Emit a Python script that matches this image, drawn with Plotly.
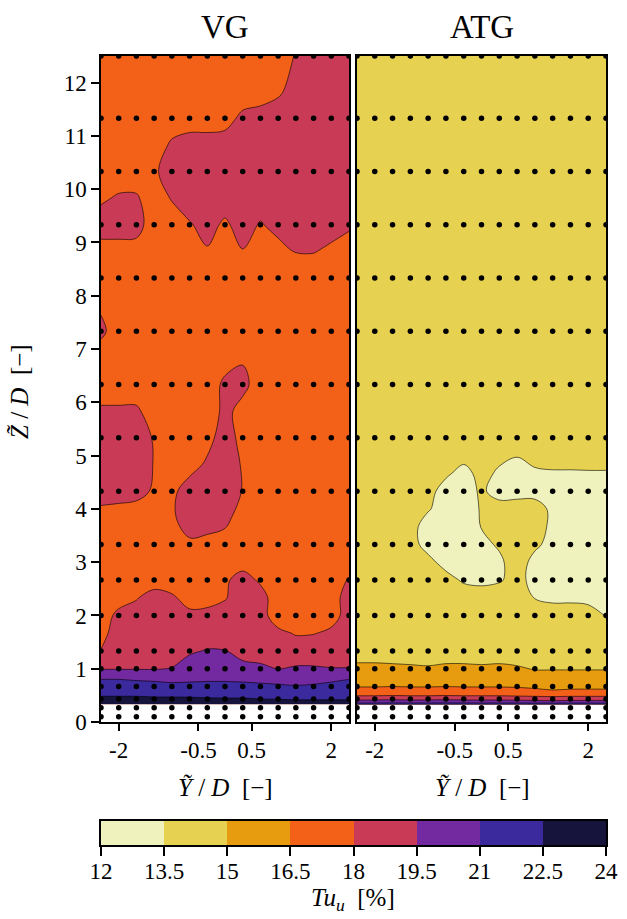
import plotly.graph_objects as go

# Measurement grid (spanwise columns, Y/D) shared by both panels
y_cols = [-2.333, -2.0, -1.667, -1.333, -1.0, -0.667, -0.333, 0.0,
          0.333, 0.667, 1.0, 1.333, 1.667, 2.0, 2.333]

# Heights (Z/D) of the probe rows drawn as dots
probe_rows = [0.1, 0.267, 0.433, 0.667, 1.0, 1.333, 2.0, 2.667, 3.333, 4.333,
              5.333, 6.333, 7.333, 8.333, 9.333, 10.333, 11.333, 12.5]

# Turbulence intensity Tu_u [%], VG case
vg_z = [0.333, 0.5, 0.667, 0.833, 1.0, 1.333, 1.667, 2.0, 2.333, 2.667, 3.0,
        3.333, 3.833, 4.333, 4.833, 5.333, 5.833, 6.333, 6.833, 7.333, 7.833,
        8.333, 8.833, 9.333, 9.833, 10.333, 10.833, 11.333, 11.833, 12.5]
vg_tu = [
    [23.4, 23.4, 23.4, 23.4, 23.4, 23.3, 23.3, 23.2, 23.2, 23.1, 23.0, 23.0, 23.0, 23.0, 23.0],
    [22.4, 22.4, 22.4, 22.3, 22.3, 22.3, 22.2, 22.2, 22.2, 22.1, 22.1, 22.0, 22.0, 22.0, 22.0],
    [21.4, 21.4, 21.4, 21.4, 21.3, 21.4, 21.4, 21.4, 21.4, 21.3, 21.2, 21.1, 21.2, 21.3, 21.4],
    [20.9, 20.9, 20.8, 20.7, 20.6, 20.6, 20.7, 20.7, 20.6, 20.5, 20.4, 20.2, 20.4, 20.7, 20.9],
    [19.4, 19.4, 19.4, 19.4, 19.55, 20.2, 20.4, 20.3, 20.0, 19.8, 19.45, 19.65, 19.65, 19.55, 19.55],
    [18.05, 18.7, 18.7, 18.7, 18.8, 19.3, 19.6, 19.55, 18.9, 18.8, 18.7, 18.7, 18.7, 18.7, 18.7],
    [17.6, 18.6, 18.7, 18.7, 18.7, 18.7, 18.7, 18.7, 18.7, 18.6, 18.3, 17.9, 17.95, 18.2, 18.6],
    [17.4, 18.3, 18.6, 18.6, 18.5, 18.3, 18.4, 18.6, 18.7, 18.5, 17.3, 17.3, 17.3, 17.6, 18.4],
    [17.3, 17.5, 17.9, 18.6, 18.2, 17.5, 17.5, 17.9, 18.7, 18.5, 17.3, 17.3, 17.5, 17.5, 18.5],
    [17.3, 17.3, 17.3, 17.3, 17.3, 17.3, 17.5, 17.8, 18.5, 17.8, 17.3, 17.3, 17.4, 17.3, 18.1],
    [17.3, 17.2, 17.3, 17.2, 17.3, 17.3, 17.4, 17.4, 17.5, 17.3, 17.2, 17.3, 17.3, 17.2, 17.3],
    [17.3, 17.3, 17.2, 17.2, 17.4, 17.8, 17.7, 17.4, 17.3, 17.3, 17.2, 17.2, 17.3, 17.3, 17.3],
    [17.4, 17.3, 17.3, 17.3, 17.8, 18.6, 18.5, 18.4, 17.3, 17.2, 17.2, 17.3, 17.3, 17.3, 17.3],
    [18.7, 18.6, 18.4, 17.85, 17.7, 18.6, 18.6, 18.6, 17.95, 17.3, 17.2, 17.3, 17.3, 17.3, 17.2],
    [18.7, 18.6, 18.6, 17.95, 17.3, 17.5, 18.2, 18.6, 17.9, 17.3, 17.3, 17.2, 17.3, 17.3, 17.3],
    [18.7, 18.6, 18.6, 17.9, 17.3, 17.3, 17.6, 18.6, 17.6, 17.3, 17.3, 17.3, 17.2, 17.3, 17.3],
    [18.2, 18.2, 18.2, 17.4, 17.3, 17.2, 17.1, 18.4, 17.5, 17.3, 17.3, 17.3, 17.3, 17.3, 17.3],
    [17.3, 17.3, 17.3, 17.3, 17.3, 17.3, 17.2, 18.3, 18.4, 17.3, 17.3, 17.3, 17.3, 17.3, 17.3],
    [17.3, 17.3, 17.3, 17.3, 17.3, 17.3, 17.3, 17.4, 17.85, 17.3, 17.3, 17.3, 17.3, 17.3, 17.3],
    [18.3, 17.3, 17.3, 17.2, 17.3, 17.3, 17.3, 17.3, 17.3, 17.3, 17.2, 17.3, 17.3, 17.3, 17.3],
    [17.8, 17.3, 17.3, 17.3, 17.3, 17.2, 17.3, 17.3, 17.3, 17.3, 17.3, 17.3, 17.2, 17.3, 17.3],
    [17.3, 17.3, 17.3, 17.3, 17.3, 17.3, 17.3, 17.3, 17.3, 17.3, 17.3, 17.3, 17.3, 17.3, 17.3],
    [17.5, 17.5, 17.5, 17.3, 17.3, 17.3, 17.9, 17.4, 17.95, 17.4, 17.6, 18.05, 18.05, 17.8, 17.4],
    [18.6, 18.6, 18.5, 17.3, 17.3, 17.9, 18.4, 17.8, 18.5, 17.9, 18.4, 18.6, 18.6, 18.4, 18.2],
    [17.8, 18.15, 18.15, 17.3, 18.1, 18.6, 18.6, 18.6, 18.6, 18.6, 18.6, 18.6, 18.6, 18.6, 18.6],
    [17.3, 17.3, 17.3, 17.8, 18.6, 18.7, 18.7, 18.7, 18.7, 18.7, 18.7, 18.7, 18.7, 18.7, 18.7],
    [17.3, 17.3, 17.3, 17.3, 18.2, 18.6, 18.6, 18.6, 18.7, 18.7, 18.7, 18.7, 18.7, 18.7, 18.7],
    [17.3, 17.3, 17.3, 17.3, 17.3, 17.3, 17.3, 17.5, 18.3, 18.6, 18.7, 18.7, 18.7, 18.7, 18.7],
    [17.3, 17.3, 17.3, 17.3, 17.3, 17.3, 17.3, 17.3, 17.3, 17.3, 17.8, 18.5, 18.6, 18.6, 18.6],
    [17.3, 17.3, 17.3, 17.3, 17.3, 17.3, 17.3, 17.3, 17.3, 17.3, 17.3, 18.1, 18.6, 18.6, 18.5],
]

# Turbulence intensity Tu_u [%], ATG case
atg_z = [0.33, 0.37, 0.45, 0.55, 0.65, 0.8, 1.0, 1.333, 2.0, 2.333, 2.667, 3.0,
         3.333, 3.667, 4.0, 4.333, 4.667, 5.0, 5.333, 12.5]
atg_tu = [
    [22.6, 22.6, 22.6, 22.6, 22.6, 22.6, 22.6, 22.6, 22.6, 22.6, 22.6, 22.6, 22.6, 22.6, 22.6],
    [20.3, 20.3, 20.4, 20.3, 20.3, 20.4, 20.3, 20.3, 20.3, 20.3, 20.2, 20.1, 20.2, 20.2, 20.2],
    [18.8, 18.8, 18.9, 18.8, 18.8, 18.9, 18.8, 18.8, 18.8, 18.7, 18.6, 18.5, 18.6, 18.6, 18.6],
    [16.9, 16.9, 17.0, 16.9, 16.9, 17.0, 16.9, 16.9, 16.9, 16.8, 16.7, 16.6, 16.7, 16.7, 16.7],
    [16.55, 16.55, 16.6, 16.55, 16.55, 16.6, 16.55, 16.55, 16.55, 16.5, 16.45, 16.4, 16.4, 16.4, 16.4],
    [15.6, 15.6, 15.6, 15.6, 15.5, 15.6, 15.6, 15.6, 15.6, 15.5, 15.4, 15.4, 15.4, 15.4, 15.4],
    [15.25, 15.25, 15.2, 15.15, 15.1, 15.2, 15.2, 15.15, 15.2, 15.1, 14.95, 14.95, 14.95, 14.95, 14.95],
    [14.5, 14.5, 14.5, 14.5, 14.5, 14.5, 14.5, 14.5, 14.5, 14.5, 14.5, 14.5, 14.5, 14.5, 14.5],
    [14.3, 14.3, 14.3, 14.3, 14.3, 14.3, 14.3, 14.3, 14.3, 14.3, 14.3, 14.2, 14.1, 13.8, 13.45],
    [14.3, 14.3, 14.3, 14.3, 14.3, 14.3, 14.3, 14.3, 14.3, 14.2, 13.45, 13.2, 13.25, 13.3, 13.2],
    [14.3, 14.3, 14.3, 14.3, 14.3, 14.0, 13.3, 13.1, 13.35, 14.0, 13.0, 13.0, 13.0, 13.0, 13.0],
    [14.3, 14.3, 14.3, 14.3, 13.9, 13.0, 13.0, 13.0, 13.2, 14.3, 13.0, 13.0, 13.0, 13.0, 13.0],
    [14.3, 14.3, 14.3, 14.0, 13.0, 13.0, 13.0, 13.1, 13.7, 14.2, 13.8, 13.0, 13.0, 13.0, 13.0],
    [14.3, 14.3, 14.3, 13.9, 13.0, 13.0, 12.9, 13.55, 14.0, 14.1, 14.1, 13.2, 13.0, 13.0, 13.0],
    [14.3, 14.3, 14.3, 14.2, 13.6, 13.0, 12.9, 13.6, 14.0, 14.1, 14.1, 13.2, 13.0, 13.0, 13.0],
    [14.3, 14.3, 14.3, 14.3, 13.9, 13.0, 12.9, 13.7, 13.0, 13.0, 13.0, 13.0, 13.0, 13.0, 13.0],
    [14.3, 14.3, 14.3, 14.3, 14.3, 13.7, 13.1, 13.9, 13.3, 13.0, 13.3, 13.4, 13.4, 13.4, 13.4],
    [14.3, 14.3, 14.3, 14.3, 14.3, 14.3, 13.9, 14.1, 13.8, 13.55, 13.9, 13.9, 13.9, 14.0, 14.0],
    [14.3, 14.3, 14.3, 14.3, 14.3, 14.3, 14.3, 14.3, 14.3, 14.3, 14.3, 14.3, 14.3, 14.3, 14.3],
    [14.3, 14.3, 14.3, 14.3, 14.3, 14.3, 14.3, 14.3, 14.3, 14.3, 14.3, 14.3, 14.3, 14.3, 14.3],
]

# Contour levels and band colours
levels = [12, 13.5, 15, 16.5, 18, 19.5, 21, 22.5, 24]
level_labels = ["12", "13.5", "15", "16.5", "18", "19.5", "21", "22.5", "24"]
band_colors = ["#f0f2be", "#e6d250", "#e69c0e", "#f36018",
               "#c83a56", "#7329a0", "#3a2a9e", "#16133c"]

x_ticks = [-2, -0.5, 0.5, 2]
x_tick_labels = ["-2", "-0.5", "0.5", "2"]
z_ticks = list(range(0, 13))

W, H = 627, 919
FONT = "Liberation Serif"
step = levels[1] - levels[0]
n_bands = len(band_colors)

# Contour fills are coloured at band mid-points; plotly maps the colour scale
# onto [start - step/2, end + step/2], i.e. band k sits at (k + 1) / (n + 1).
nfrac = n_bands + 1
contour_scale = [[0.0, band_colors[0]]]
for k, c in enumerate(band_colors):
    lo = 0.0 if k == 0 else (k + 0.5) / nfrac
    hi = 1.0 if k == n_bands - 1 else (k + 1.5) / nfrac
    contour_scale.append([lo, c])
    contour_scale.append([hi, c])
contour_scale.append([1.0, band_colors[-1]])

# Step colour scale for the colour-bar strip (heatmap over [12, 24])
bar_scale = []
for k, c in enumerate(band_colors):
    bar_scale.append([k / n_bands, c])
    bar_scale.append([(k + 1) / n_bands, c])


def px_x(p):
    return p / W


def px_y(p):
    return (H - p) / H


fig = go.Figure()

panels = [(vg_z, vg_tu, "x", "y"), (atg_z, atg_tu, "x2", "y2")]
for rows, tu, xa, ya in panels:
    fig.add_trace(go.Contour(
        x=y_cols, y=rows, z=tu, xaxis=xa, yaxis=ya,
        colorscale=contour_scale, showscale=False,
        contours=dict(start=levels[0], end=levels[-1], size=step, coloring="fill"),
        line=dict(color="black", width=0.6, smoothing=1.0),
        hoverinfo="skip",
    ))
    dot_x = [c for r in probe_rows for c in y_cols]
    dot_y = [r for r in probe_rows for c in y_cols]
    fig.add_trace(go.Scatter(
        x=dot_x, y=dot_y, mode="markers", xaxis=xa, yaxis=ya,
        marker=dict(color="black", size=5.5), hoverinfo="skip", showlegend=False,
    ))

# Colour bar drawn as a one-row heatmap on its own axes
centers = [(levels[i] + levels[i + 1]) / 2 for i in range(n_bands)]
fig.add_trace(go.Heatmap(
    x=levels, y=[0, 1], z=[centers], xaxis="x3", yaxis="y3",
    colorscale=bar_scale, zmin=levels[0], zmax=levels[-1], showscale=False,
    hoverinfo="skip",
))

frame = dict(showline=True, mirror=True, linecolor="black", linewidth=1.5,
             showgrid=False, zeroline=False, automargin=False)
tickfont = dict(family=FONT, size=23, color="black")
plot_dom_y = [px_y(722), px_y(56)]

fig.update_layout(
    width=W, height=H, margin=dict(l=0, r=0, t=0, b=0, pad=0),
    paper_bgcolor="white", plot_bgcolor="white", showlegend=False,
    xaxis=dict(domain=[px_x(101), px_x(349)], range=[-2.333, 2.333],
               tickvals=x_ticks, ticktext=x_tick_labels, ticks="outside",
               ticklen=7, tickwidth=1.5, tickcolor="black", tickfont=tickfont,
               anchor="y", **frame),
    yaxis=dict(domain=plot_dom_y, range=[0, 12.5], tickvals=z_ticks,
               ticks="outside", ticklen=8, tickwidth=1.5, tickcolor="black",
               tickfont=tickfont, anchor="x", **frame),
    xaxis2=dict(domain=[px_x(357), px_x(606)], range=[-2.333, 2.333],
                tickvals=x_ticks, ticktext=x_tick_labels, ticks="outside",
                ticklen=7, tickwidth=1.5, tickcolor="black", tickfont=tickfont,
                anchor="y2", **frame),
    yaxis2=dict(domain=plot_dom_y, range=[0, 12.5], showticklabels=False,
                ticks="", anchor="x2", **frame),
    xaxis3=dict(domain=[px_x(101), px_x(606)], range=[levels[0], levels[-1]],
                tickvals=levels, ticktext=level_labels, ticks="outside",
                ticklen=9, tickwidth=1.5, tickcolor="black", tickfont=tickfont,
                ticklabelstandoff=-4, anchor="y3", **frame),
    yaxis3=dict(domain=[px_y(845), px_y(821)], range=[0, 1],
                showticklabels=False, ticks="", anchor="x3", **frame),
)

title_font = dict(family=FONT, size=33, color="black")
label_font = dict(family=FONT, size=25, color="black")
gap = "\u00a0"
annotations = [
    dict(text="VG", x=px_x(225), y=px_y(27), font=title_font),
    dict(text="ATG", x=px_x(482), y=px_y(27), font=title_font),
    dict(text=f"<i>Z\u0303</i>{gap}/{gap}<i>D</i>{gap}{gap}[\u2212]", x=px_x(19), y=px_y(392),
         textangle=-90, font=label_font),
    dict(text=f"<i>Y\u0303</i>{gap}/{gap}<i>D</i>{gap}{gap}[\u2212]", x=px_x(226), y=px_y(787),
         font=label_font),
    dict(text=f"<i>Y\u0303</i>{gap}/{gap}<i>D</i>{gap}{gap}[\u2212]", x=px_x(482), y=px_y(787),
         font=label_font),
    dict(text=f"<i>Tu<sub>u</sub></i>{gap}{gap}[%]", x=px_x(353), y=px_y(899), font=label_font),
]
for a in annotations:
    fig.add_annotation(xref="paper", yref="paper", showarrow=False,
                       xanchor="center", yanchor="middle", **a)

fig.write_html("out.html")
